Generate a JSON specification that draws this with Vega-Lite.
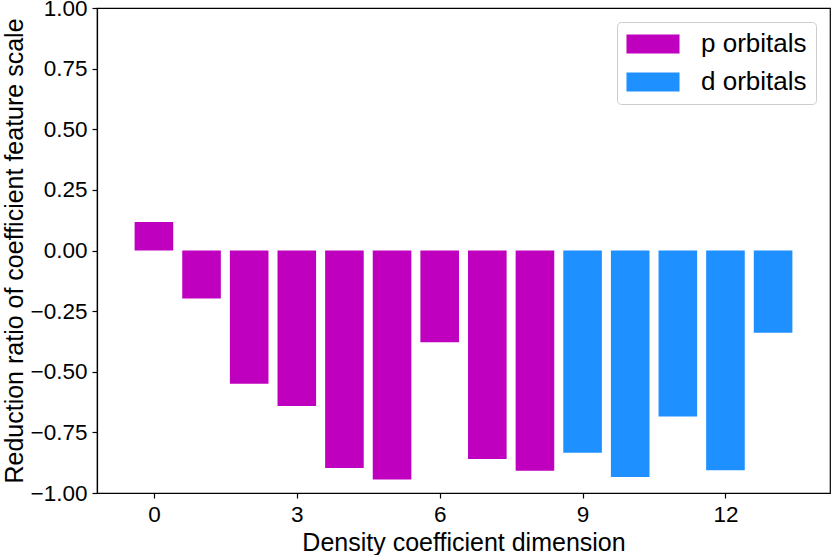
{
  "$schema": "https://vega.github.io/schema/vega-lite/v6.json",
  "width": 733,
  "height": 485,
  "autosize": "none",
  "padding": {"left": 97, "top": 8, "right": 1, "bottom": 62},
  "background": "white",
  "config": {
    "font": "Liberation Sans",
    "view": {"stroke": "black", "strokeWidth": 1.2},
    "axis": {
      "grid": false,
      "domainColor": "black",
      "domainWidth": 1.2,
      "tickColor": "black",
      "tickSize": 5,
      "tickWidth": 1.2,
      "labelColor": "black",
      "labelFontSize": 22.5,
      "labelFont": "Liberation Sans",
      "titleColor": "black",
      "titleFontSize": 25,
      "titleFont": "Liberation Sans",
      "titleFontWeight": "normal"
    }
  },
  "data": {
    "values": [
      {"dim": 0, "ratio": 0.118, "orbital": "p orbitals"},
      {"dim": 1, "ratio": -0.198, "orbital": "p orbitals"},
      {"dim": 2, "ratio": -0.549, "orbital": "p orbitals"},
      {"dim": 3, "ratio": -0.641, "orbital": "p orbitals"},
      {"dim": 4, "ratio": -0.897, "orbital": "p orbitals"},
      {"dim": 5, "ratio": -0.944, "orbital": "p orbitals"},
      {"dim": 6, "ratio": -0.378, "orbital": "p orbitals"},
      {"dim": 7, "ratio": -0.86, "orbital": "p orbitals"},
      {"dim": 8, "ratio": -0.908, "orbital": "p orbitals"},
      {"dim": 9, "ratio": -0.834, "orbital": "d orbitals"},
      {"dim": 10, "ratio": -0.934, "orbital": "d orbitals"},
      {"dim": 11, "ratio": -0.685, "orbital": "d orbitals"},
      {"dim": 12, "ratio": -0.906, "orbital": "d orbitals"},
      {"dim": 13, "ratio": -0.339, "orbital": "d orbitals"}
    ]
  },
  "mark": {"type": "bar", "width": 38.6},
  "encoding": {
    "x": {
      "field": "dim",
      "type": "quantitative",
      "title": "Density coefficient dimension",
      "scale": {"domain": [-1.09, 14.09], "nice": false, "zero": false},
      "axis": {"values": [0, 3, 6, 9, 12], "labelPadding": 5, "titlePadding": 5, "labelFlush": false}
    },
    "y": {
      "field": "ratio",
      "type": "quantitative",
      "title": "Reduction ratio of coefficient feature scale",
      "scale": {"domain": [-1, 1], "nice": false},
      "axis": {
        "values": [-1, -0.75, -0.5, -0.25, 0, 0.25, 0.5, 0.75, 1],
        "format": ".2f",
        "labelPadding": 5,
        "titlePadding": 3
      }
    },
    "color": {
      "field": "orbital",
      "type": "nominal",
      "scale": {"domain": ["p orbitals", "d orbitals"], "range": ["#bf00bf", "#1e90ff"]},
      "legend": {
        "title": null,
        "orient": "none",
        "legendX": 520,
        "legendY": 14,
        "symbolType": "M-2.04,-0.73H2.04V0.73H-2.04Z",
        "symbolSize": 676,
        "symbolStrokeWidth": 0,
        "symbolOffset": 14,
        "labelOffset": 35,
        "labelFontSize": 26,
        "labelFont": "Liberation Sans",
        "labelColor": "black",
        "rowPadding": 12,
        "padding": 9,
        "strokeColor": "#cccccc",
        "fillColor": "white",
        "cornerRadius": 4
      }
    }
  }
}
